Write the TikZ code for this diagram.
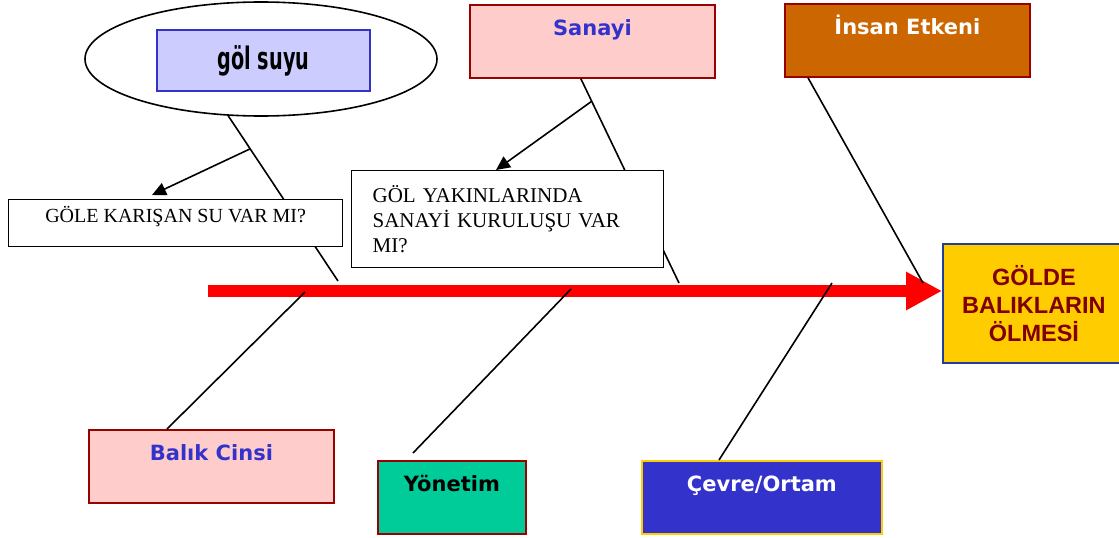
\documentclass[tikz,border=0pt]{standalone}
\usepackage{fontspec}
\setmainfont{Liberation Serif}
\newfontfamily\catfont{DejaVu Sans}
\newfontfamily\effectfont{Liberation Sans}
\newfontfamily\narrowfont{DejaVu Sans}[FakeStretch=0.62]
\usepackage{xcolor}
\usetikzlibrary{positioning,shapes.geometric,arrows.meta,calc}

\definecolor{lightpink}{HTML}{FFCCCC}
\definecolor{darkred}{HTML}{990000}
\definecolor{catblue}{HTML}{3333CC}
\definecolor{lavender}{HTML}{CCCCFF}
\definecolor{rust}{HTML}{CC6600}
\definecolor{seagreen}{HTML}{00CC99}
\definecolor{gold}{HTML}{FFCC00}
\definecolor{effectred}{HTML}{800000}
\definecolor{effectblue}{HTML}{1F3F99}

\tikzset{
  cat/.style={draw=darkred, line width=1.8pt, anchor=north west, inner sep=0pt,
    minimum width=245pt, text height=31pt, text depth=42pt,
    font=\catfont\bfseries\fontsize{21}{25}\selectfont},
  question/.style={draw, fill=white, line width=1.3pt, anchor=north west},
  bone/.style={line width=1.6pt},
  pointer/.style={line width=1.6pt, -{Triangle[length=14pt,width=13pt]}}
}

\begin{document}
\begin{tikzpicture}[x=1pt,y=-1pt]
\useasboundingbox (0,0) rectangle (1119,538);

% causes
\node[ellipse, draw, line width=1.6pt, minimum width=352pt, minimum height=114pt] (lake) at (261,59) {};
\node[draw=catblue, fill=lavender, line width=1.5pt, minimum width=213pt, minimum height=61pt,
  font=\narrowfont\bfseries\fontsize{31}{31}\selectfont] (water) at (263.5,60.5) {göl suyu};
\node[cat, fill=lightpink, text=catblue] (industry) at (469,4) {Sanayi};
\node[cat, fill=rust, text=white] (human) at (784,3) {İnsan Etkeni};
\node[cat, fill=lightpink, text=catblue] (fish) at (88,429) {Balık Cinsi};
\node[cat, fill=seagreen, minimum width=148pt] (management) at (377,460) {Yönetim};
\node[cat, draw=gold, fill=catblue, text=white, minimum width=240pt] (environment) at (641,460) {Çevre/Ortam};
\node[draw=effectblue, fill=gold, line width=1.8pt, anchor=north west, minimum width=182pt,
  minimum height=119pt, align=center, text=effectred,
  font=\effectfont\bfseries\fontsize{23.5}{28}\selectfont] (effect) at (942,243) {GÖLDE\\BALIKLARIN\\ÖLMESİ};

% spine
\coordinate (tail) at (208,291);
\draw[red, line width=12pt, -{Triangle[length=36pt,width=36pt]}] (tail) -- (tail -| effect.west);

% bones
\coordinate (j1) at (338,281);
\coordinate (j2) at (679,283);
\coordinate (j3) at (923,283);
\coordinate (j4) at (305,292);
\coordinate (j5) at (571,289);
\coordinate (j6) at (832,283);
\draw[bone] (lake.240) -- (j1);
\draw[bone] ([xshift=-11.5pt]industry.south) -- (j2);
\draw[bone] ([xshift=24pt]human.south west) -- (j3);
\draw[bone] (j4) -- ([xshift=79pt]fish.north west);
\draw[bone] (j5) -- ([xshift=36pt,yshift=7pt]management.north west);
\draw[bone] (j6) -- ([xshift=78pt]environment.north west);

% questions
\node[question, minimum width=334pt, inner ysep=0pt, text height=23pt, text depth=24pt,
  font=\fontsize{20}{24}\selectfont] (ask1) at (8,199) {GÖLE KARIŞAN SU VAR MI?};
\node[question, text width=270pt, inner xsep=21pt, minimum height=97pt, align=left,
  font=\fontsize{21}{25}\selectfont] (ask2) at (351,170) {GÖL YAKINLARINDA\\SANAYİ KURULUŞU VAR\\MI?};

\draw[pointer] ($(lake.240)!0.2!(j1)$) -- ([xshift=144pt,yshift=4pt]ask1.north west);
\draw[pointer] ($([xshift=-11.5pt]industry.south)!0.11!(j2)$) -- ([xshift=145pt]ask2.north west);

\end{tikzpicture}
\end{document}
